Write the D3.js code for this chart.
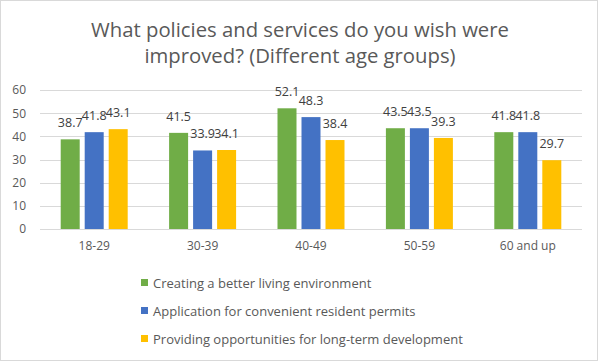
<!DOCTYPE html>
<html><head><meta charset="utf-8">
<script src="https://cdn.jsdelivr.net/npm/d3@7"></script>
<style>
html,body{margin:0;padding:0;background:#fff;}
svg{display:block;font-family:"Open Sans","Noto Sans",sans-serif;}
</style></head>
<body><svg id="c" width="600" height="361"></svg>
<script>
const titleLines = ["What policies and services do you wish were", "improved? (Different age groups)"];
const categories = ["18-29", "30-39", "40-49", "50-59", "60 and up"];
const seriesNames = ["Creating a better living environment", "Application for convenient resident permits", "Providing opportunities for long-term development"];
const seriesColors = ["#70AD47", "#4472C4", "#FFC000"];
const betterLiving = [38.7, 41.5, 52.1, 43.5, 41.8];
const residentPermits = [41.8, 33.9, 48.3, 43.5, 41.8];
const longTermDev = [43.1, 34.1, 38.4, 39.3, 29.7];
const yTicks = [0, 10, 20, 30, 40, 50, 60];

const series = [betterLiving, residentPermits, longTermDev];
const svg = d3.select("#c");

// outer border
svg.append("rect").attr("x",0.5).attr("y",0.5).attr("width",597).attr("height",360)
  .attr("fill","#fff").attr("stroke","#D9D9D9").attr("stroke-width",1);

// title
const title = svg.append("text").attr("text-anchor","middle").attr("fill","#595959")
  .attr("font-size",20.3);
titleLines.forEach((t,i)=>{
  title.append("tspan").attr("x",300).attr("y",37+i*26).text(t);
});

const x0 = d3.scaleBand().domain(categories).range([40,582]).paddingInner(0).paddingOuter(0);
const y = d3.scaleLinear().domain([0,60]).range([229,90]);

// gridlines
svg.append("g").selectAll("line").data(yTicks).join("line")
  .attr("x1",40).attr("x2",582)
  .attr("y1",d=>Math.round(y(d))+0.5).attr("y2",d=>Math.round(y(d))+0.5)
  .attr("stroke","#D9D9D9").attr("stroke-width",1);

// y axis labels
const yAxis = d3.axisLeft(y).tickValues(yTicks).tickSize(0).tickPadding(0);
const gy = svg.append("g").attr("transform","translate(26,0)").call(yAxis);
gy.select(".domain").remove();
gy.selectAll("text").attr("fill","#595959").attr("font-size",12).attr("font-family","'Open Sans',sans-serif");

// x axis labels
const xAxis = d3.axisBottom(x0).tickSize(0).tickPadding(0);
const gx = svg.append("g").attr("transform","translate(0,241)").call(xAxis);
gx.select(".domain").remove();
gx.selectAll("text").attr("fill","#595959").attr("font-size",12).attr("font-family","'Open Sans',sans-serif");

const barW = 19, gap = 5;
const x1 = d3.scaleBand().domain([0,1,2]).range([-(3*barW+2*gap)/2, (3*barW+2*gap)/2]).paddingInner(gap/(barW+gap)).paddingOuter(0);

const groups = svg.append("g").selectAll("g").data(categories).join("g")
  .attr("transform",d=>`translate(${x0(d)+x0.bandwidth()/2},0)`);

groups.each(function(cat,ci){
  const g = d3.select(this);
  series.forEach((s,si)=>{
    g.append("rect").attr("x",x1(si)).attr("width",x1.bandwidth())
      .attr("y",y(s[ci])).attr("height",y(0)-y(s[ci])).attr("fill",seriesColors[si]);
  });
  series.forEach((s,si)=>{
    g.append("text").attr("x",x1(si)+x1.bandwidth()/2).attr("y",y(s[ci])-12)
      .attr("text-anchor","middle").attr("fill","#404040").attr("font-size",12.5)
      .text(s[ci].toFixed(1));
  });
});

// legend
const leg = svg.append("g").selectAll("g").data(seriesNames).join("g")
  .attr("transform",(d,i)=>`translate(141,${283+i*28})`);
leg.append("rect").attr("x",0).attr("y",-4).attr("width",7).attr("height",7)
  .attr("fill",(d,i)=>seriesColors[i]);
leg.append("text").attr("x",12).attr("y",4.5).attr("fill","#595959").attr("font-size",13).text(d=>d);
</script></body></html>
